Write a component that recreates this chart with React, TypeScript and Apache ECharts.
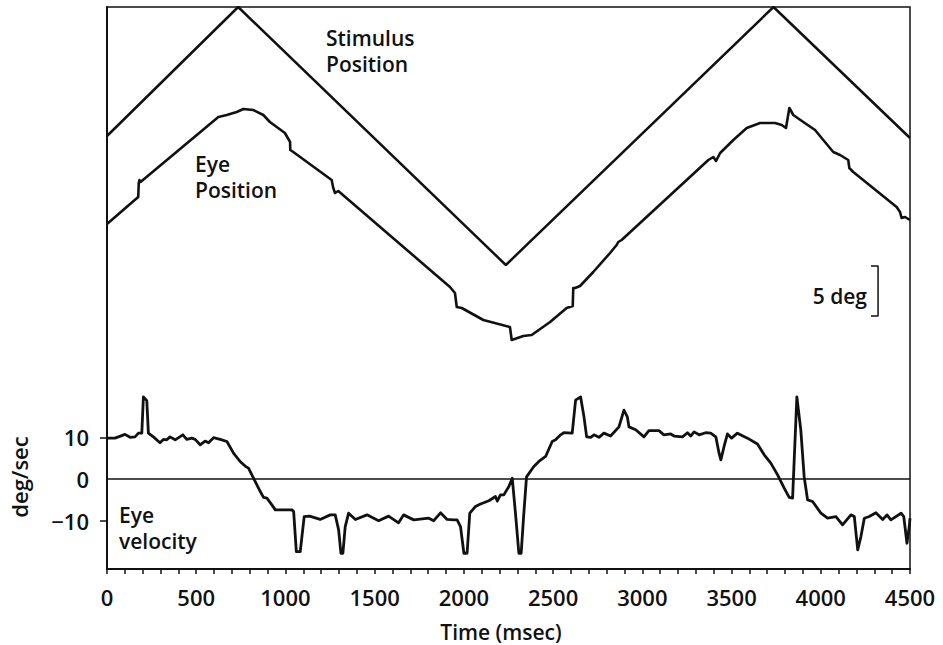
import React, { useEffect, useRef } from "react";
import * as echarts from "echarts";

// Stimulus position (deg, arbitrary offset) vs time (msec)
const stimulusTimes = [0, 735, 2235, 3735, 4500];
const stimulusPositions = [12.1, 25, -0.8, 25, 11.9];

// Eye position (deg) vs time (msec)
const eyePosTimes = [
  0, 175, 178, 182, 188, 624, 671, 727, 764, 820, 876, 913, 997, 1026, 1027,
  1044, 1259, 1268, 1278, 1296, 1922, 1950, 1960, 1988, 2109, 2258, 2268, 2333, 2380, 2483,
  2576, 2610, 2613, 2623, 2651, 2725, 2819, 2856, 2865, 2884, 3370, 3398, 3413, 3436, 3510,
  3585, 3660, 3744, 3781, 3805, 3824, 3846, 3902, 3968, 4014, 4070, 4108, 4154, 4160, 4182,
  4425, 4444, 4453, 4472, 4500,
];
const eyePosValues = [
  3.3, 6.0, 7.4, 7.7, 7.5, 14.0, 14.2, 14.5, 14.8, 14.7, 14.2, 13.5, 12.4, 11.5, 10.7,
  10.5, 7.7, 6.9, 6.4, 6.6, -3.0, -3.6, -5.0, -5.1, -6.3, -7.0, -8.3, -7.9, -7.8, -6.5,
  -5.1, -4.9, -3.1, -3.1, -2.9, -1.5, 0.4, 1.2, 1.5, 1.7, 9.7, 10.0, 9.6, 10.4, 11.7,
  12.9, 13.4, 13.4, 13.2, 12.9, 14.9, 14.2, 13.5, 12.7, 11.7, 10.5, 10.2, 9.7, 8.9, 8.5,
  5.0, 4.5, 3.9, 4.0, 3.7,
];

// Eye velocity (deg/sec) vs time (msec)
const eyeVelTimes = [
  0, 45, 101, 129, 157, 176, 195, 204, 223, 232, 260, 297, 316, 335, 353, 382, 425, 447,
  475, 494, 522, 550, 569, 597, 634, 672, 709, 746, 774, 793, 821, 859, 877, 896, 924,
  943, 1036, 1046, 1061, 1083, 1105, 1135, 1195, 1251, 1279, 1298, 1311, 1322, 1335,
  1354, 1392, 1457, 1522, 1578, 1634, 1662, 1719, 1803, 1831, 1869, 1906, 1943, 1962,
  1981, 2000, 2018, 2033, 2065, 2093, 2140, 2177, 2187, 2205, 2224, 2252, 2271, 2289,
  2308, 2321, 2336, 2351, 2392, 2420, 2458, 2495, 2514, 2542, 2560, 2607, 2626, 2654,
  2673, 2688, 2711, 2729, 2757, 2785, 2822, 2869, 2897, 2916, 2925, 2963, 3009, 3037,
  3093, 3121, 3159, 3178, 3225, 3253, 3271, 3290, 3318, 3355, 3383, 3412, 3430, 3440,
  3458, 3477, 3500, 3533, 3589, 3645, 3683, 3720, 3758, 3795, 3823, 3842, 3866, 3888,
  3907, 3926, 3954, 4001, 4038, 4085, 4122, 4169, 4188, 4207, 4225, 4244, 4272, 4309,
  4347, 4371, 4393, 4450, 4465, 4483, 4496, 4500,
];
const eyeVelValues = [
  9.8, 9.8, 10.7, 10.0, 10.1, 11.0, 11.0, 19.7, 18.8, 11.0, 10.1, 8.7, 9.5, 9.4, 10.1, 9.4, 10.6, 9.5,
  9.8, 9.5, 8.2, 9.1, 8.7, 9.9, 9.5, 9.0, 6.2, 4.2, 3.1, 2.6, 0.2, -3.0, -4.4, -4.6, -6.2,
  -7.4, -7.4, -7.8, -17.4, -17.4, -9.0, -8.9, -9.7, -8.6, -8.6, -12.2, -17.8, -17.8, -11.4,
  -8.2, -9.7, -8.6, -10.0, -8.9, -10.5, -8.6, -9.8, -9.4, -10.0, -8.1, -9.7, -9.8, -9.8,
  -11.4, -17.8, -17.8, -8.2, -6.6, -6.0, -5.2, -4.2, -5.3, -3.8, -3.8, -1.8, 0.2, -8.2,
  -17.8, -17.8, -8.2, 0.5, 3.0, 4.2, 5.4, 9.0, 9.4, 10.6, 11.1, 11.0, 18.9, 19.7,
  14.9, 10.1, 10.0, 10.6, 10.0, 11.0, 10.3, 12.5, 16.5, 14.9, 12.5, 11.8, 10.1, 11.6,
  11.6, 10.6, 10.8, 10.3, 10.1, 11.1, 10.3, 11.3, 10.6, 11.1, 11.0, 10.1, 6.2, 4.6,
  7.8, 10.8, 9.8, 11.0, 9.8, 8.4, 5.8, 3.8, 1.0, -2.2, -4.4, -4.6, 19.7, 11.8,
  0.5, -5.0, -5.4, -8.2, -9.4, -9.0, -11.0, -8.6, -9.0, -17.0, -13.8, -9.4, -9.0, -8.1,
  -9.7, -8.6, -9.8, -8.2, -9.0, -15.4, -11.4, -9.4,
];

// 5 deg scale bracket (time, deg)
const scaleBarTimes = [4281, 4321, 4321, 4281];
const scaleBarDeg = [-0.9, -0.9, -5.9, -5.9];

const velocityLabelValues = [-10, 0, 10];
const velocityTickValues = [-10, 10];

const FONT = "'Open Sans', 'Noto Sans', sans-serif";
const WEIGHT = 600;

const zip = (a: number[], b: number[]) => a.map((v, i) => [v, b[i]]);

export default function App() {
  const ref = useRef<HTMLDivElement>(null);
  useEffect(() => {
    if (!ref.current) return;
    const chart = echarts.init(ref.current, undefined, { renderer: "svg" });
    const txt = (text: string, x: number, y: number, align = "left", extra: any = {}, size = 21) => ({
      type: "text",
      x,
      y,
      ...extra,
      style: {
        text,
        fill: "#111",
        fontSize: size,
        fontFamily: FONT,
        fontWeight: WEIGHT,
        align,
        verticalAlign: "middle",
        textAlign: align,
        textVerticalAlign: "middle",
      },
    });
    chart.setOption({
      animation: false,
      backgroundColor: "#fff",
      grid: {
        left: 107,
        right: 33,
        top: 7,
        bottom: 76,
        show: true,
        borderColor: "#111",
        borderWidth: 1.5,
        backgroundColor: "transparent",
      },
      xAxis: {
        type: "value",
        min: 0,
        max: 4500,
        interval: 500,
        axisLine: { show: true, onZero: false, lineStyle: { color: "#111", width: 2 } },
        axisTick: { show: true, inside: false, length: 5, lineStyle: { color: "#111", width: 1.5 } },
        minorTick: { show: true, splitNumber: 5, length: 5, lineStyle: { color: "#111", width: 1.5 } },
        splitLine: { show: false },
        minorSplitLine: { show: false },
        axisLabel: {
          color: "#111",
          fontSize: 22,
          fontFamily: FONT,
          fontWeight: WEIGHT,
          margin: 17,
          formatter: (v: number) => String(v),
        },
      },
      yAxis: [
        {
          type: "value",
          min: -21.58,
          max: 113.19,
          position: "left",
          axisLine: { show: true, onZero: false, lineStyle: { color: "#111", width: 2 } },
          axisTick: {
            show: true,
            length: 7,
            customValues: velocityTickValues,
            lineStyle: { color: "#111", width: 1.5 },
          },
          axisLabel: {
            color: "#111",
            fontSize: 22,
            fontFamily: FONT,
            fontWeight: WEIGHT,
            margin: 18,
            customValues: velocityLabelValues,
            formatter: (v: number) => (v < 0 ? "\u2212" + Math.abs(v) : String(v)),
          },
          splitLine: { show: false },
        },
        {
          type: "value",
          min: -31.2,
          max: 25,
          show: false,
          splitLine: { show: false },
        },
      ],
      series: [
        {
          name: "Stimulus Position",
          type: "line",
          yAxisIndex: 1,
          data: zip(stimulusTimes, stimulusPositions),
          symbol: "none",
          lineStyle: { color: "#111", width: 2.5 },
        },
        {
          name: "Eye Position",
          type: "line",
          yAxisIndex: 1,
          data: zip(eyePosTimes, eyePosValues),
          symbol: "none",
          lineStyle: { color: "#111", width: 2.6, join: "round" },
        },
        {
          name: "Eye velocity",
          type: "line",
          yAxisIndex: 0,
          data: zip(eyeVelTimes, eyeVelValues),
          symbol: "none",
          lineStyle: { color: "#111", width: 2.8, join: "round" },
          markLine: {
            silent: true,
            symbol: "none",
            label: { show: false },
            lineStyle: { color: "#111", width: 1.5, type: "solid" },
            data: [{ yAxis: 0 }],
          },
        },
        {
          name: "5 deg",
          type: "line",
          yAxisIndex: 1,
          data: zip(scaleBarTimes, scaleBarDeg),
          symbol: "none",
          lineStyle: { color: "#111", width: 1.5 },
        },
      ],
      graphic: [
        txt("Stimulus", 326, 38),
        txt("Position", 326, 64),
        txt("Eye", 195, 164),
        txt("Position", 195, 190),
        txt("5 deg", 867, 296, "right"),
        txt("Eye", 119, 515),
        txt("velocity", 119, 541),
        txt("Time (msec)", 501, 632, "center"),
        txt("deg/sec", 19, 477, "center", { rotation: Math.PI / 2 }, 22),
      ],
    });
    return () => chart.dispose();
  }, []);
  return (
    <div
      ref={ref}
      style={{ position: "fixed", left: 0, top: 0, width: 943, height: 645, background: "#fff" }}
    />
  );
}
